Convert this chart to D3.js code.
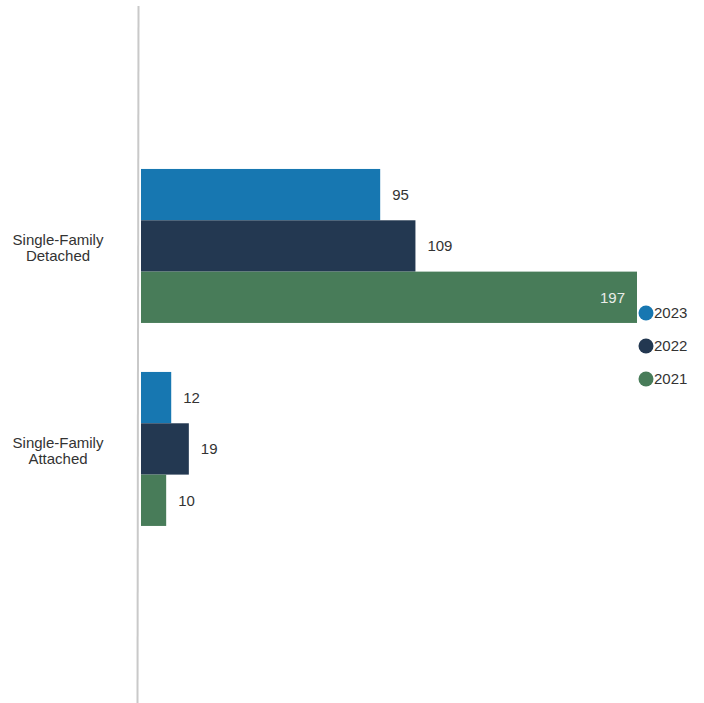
<!DOCTYPE html>
<html>
<head>
<meta charset="utf-8">
<script src="https://cdn.jsdelivr.net/npm/d3@7"></script>
<style>
  html, body { margin: 0; padding: 0; background: #fff; }
  svg { display: block; }
  text { font-family: "Liberation Sans", Arial, sans-serif; }
</style>
</head>
<body>
<script>
const categories = ["Single-Family Detached", "Single-Family Attached"];
const categoryLines = [["Single-Family", "Detached"], ["Single-Family", "Attached"]];
const seriesNames = ["2023", "2022", "2021"];
const values2023 = [95, 12];
const values2022 = [109, 19];
const values2021 = [197, 10];
const seriesColors = ["#1777b1", "#233851", "#487c59"];

const W = 704, H = 703;
const svg = d3.select("body").append("svg").attr("width", W).attr("height", H);

const seriesValues = [values2023, values2022, values2021];
const data = categories.map((c, i) => ({
  cat: c, lines: categoryLines[i],
  vals: seriesNames.map((s, j) => ({ series: s, value: seriesValues[j][i], color: seriesColors[j] }))
}));

const x = d3.scaleLinear().domain([0, 197]).range([141, 637]);
const y0 = d3.scaleBand().domain(categories).range([144.6, 550.3]).paddingInner(0.2414).paddingOuter(0.12);
const y1 = d3.scaleBand().domain(seriesNames).range([0, y0.bandwidth()]);

// axis line
svg.append("line")
  .attr("x1", 138.5).attr("x2", 137.5)
  .attr("y1", 6).attr("y2", H)
  .attr("stroke", "#c9c9c9").attr("stroke-width", 2);

const g = svg.selectAll("g.cat").data(data).join("g")
  .attr("class", "cat")
  .attr("transform", d => `translate(0,${y0(d.cat)})`);

g.selectAll("rect").data(d => d.vals).join("rect")
  .attr("x", x(0))
  .attr("y", d => y1(d.series))
  .attr("width", d => x(d.value) - x(0))
  .attr("height", y1.bandwidth())
  .attr("fill", d => d.color);

g.selectAll("text.val").data(d => d.vals).join("text")
  .attr("class", "val")
  .attr("x", d => d.value > 150 ? x(d.value) - 12 : x(d.value) + 12)
  .attr("y", d => y1(d.series) + y1.bandwidth() / 2)
  .attr("dy", "0.35em")
  .attr("text-anchor", d => d.value > 150 ? "end" : "start")
  .attr("font-size", 15)
  .attr("fill", d => d.value > 150 ? "#e8ece8" : "#333")
  .text(d => d.value);

// category labels
g.each(function(d) {
  const t = d3.select(this).append("text")
    .attr("x", 58)
    .attr("text-anchor", "middle")
    .attr("font-size", 15)
    .attr("fill", "#333");
  d.lines.forEach((ln, i) => {
    t.append("tspan")
      .attr("x", 58)
      .attr("y", y0.bandwidth() / 2 + (i === 0 ? -0.75 : 14.75))
      .text(ln);
  });
});

// legend
const legend = svg.selectAll("g.leg").data(seriesNames).join("g")
  .attr("class", "leg")
  .attr("transform", (d, i) => `translate(646,${313 + i * 33})`);
legend.append("circle").attr("r", 7.5).attr("fill", (d, i) => seriesColors[i]);
legend.append("text")
  .attr("x", 8).attr("dy", "0.35em")
  .attr("font-size", 15).attr("fill", "#333")
  .text(d => d);
</script>
</body>
</html>
